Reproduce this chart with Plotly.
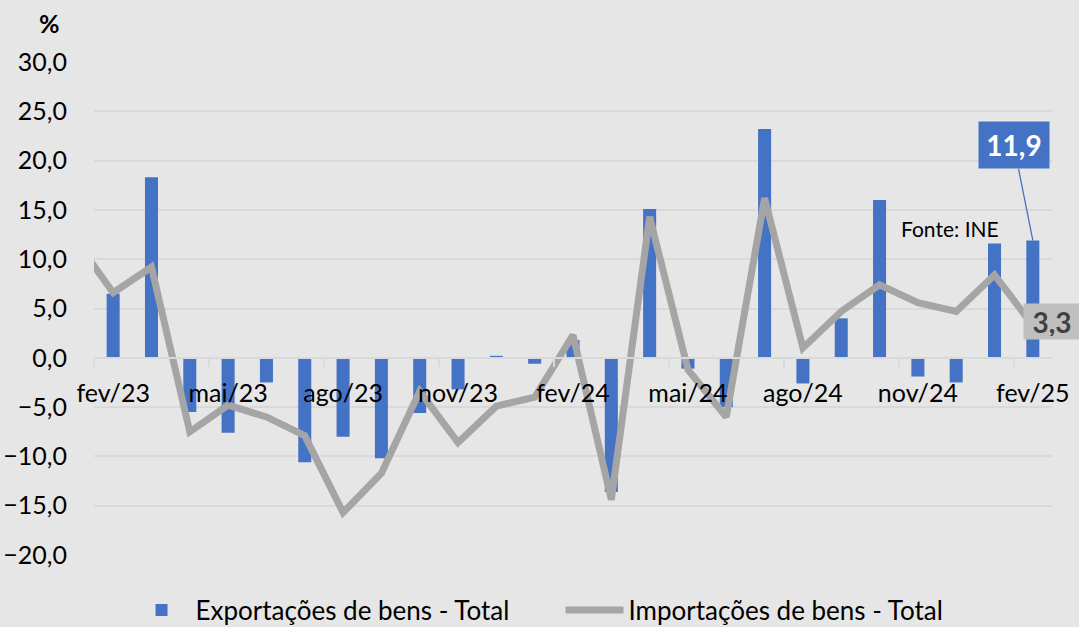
import plotly.graph_objects as go

# ---- data ----
months = ["jan/23", "fev/23", "mar/23", "abr/23", "mai/23", "jun/23", "jul/23", "ago/23",
          "set/23", "out/23", "nov/23", "dez/23", "jan/24", "fev/24", "mar/24", "abr/24",
          "mai/24", "jun/24", "jul/24", "ago/24", "set/24", "out/24", "nov/24", "dez/24",
          "jan/25", "fev/25"]
exports = [None, 6.5, 18.3, -5.5, -7.6, -2.5, -10.6, -8.0, -10.2, -5.6, -3.2, 0.2, -0.6,
           1.8, -13.6, 15.1, -1.1, -5.0, 23.2, -2.6, 4.0, 16.0, -1.9, -2.5, 11.6, 11.9]
imports = [12.0, 6.6, 9.2, -7.5, -4.8, -6.0, -7.9, -15.7, -11.7, -3.4, -8.6, -4.9, -4.0,
           2.3, -14.4, 14.3, -1.2, -6.0, 16.2, 1.0, 4.7, 7.4, 5.6, 4.7, 8.4, 3.3]
label_months = ["fev", "mai", "ago", "nov"]
exp_name = "Exportações de bens - Total"
imp_name = "Importações de bens - Total"
source_text = "Fonte: INE"
unit_text = "%"

FONT = "Lato"
BG = "#E7E6E6"
GRID = "#D9D9D9"
BLUE = "#4472C4"
GRAY = "#A5A5A5"

xpos = list(range(len(months)))
tickvals = [i for i, m in enumerate(months) if m.split("/")[0] in label_months]
ticktext = [months[i] for i in tickvals]
last = len(months) - 1

fig = go.Figure()
fig.add_trace(go.Bar(x=xpos, y=exports, name=exp_name, width=0.34,
                     marker=dict(color=BLUE, line=dict(width=0))))
fig.add_trace(go.Scatter(x=xpos, y=imports, name=imp_name, mode="lines",
                         line=dict(color=GRAY, width=7)))

fig.update_layout(
    width=1079, height=627,
    margin=dict(l=94, r=27, t=62, b=72, autoexpand=False),
    paper_bgcolor=BG, plot_bgcolor=BG,
    separators=",.",
    font=dict(family=FONT, color="#000000", size=25),
    bargap=0.66,
    showlegend=True,
    legend=dict(orientation="h", x=0.035, xanchor="left", y=-0.112, yanchor="middle",
                font=dict(size=26, family=FONT, color="#000000"),
                bgcolor="rgba(0,0,0,0)", itemwidth=58, entrywidth=360,
                tracegroupgap=0),
    xaxis=dict(range=[0.5, len(months) - 0.5], showgrid=False, zeroline=False,
               showline=True, linecolor=GRID, linewidth=2,
               anchor="free", position=0.4,
               tickmode="array", tickvals=tickvals, ticktext=ticktext,
               ticks="", ticklabelstandoff=13,
               tickfont=dict(size=25, family=FONT, color="#000000"),
               minor=dict(tickvals=[v - 0.5 for v in tickvals], ticks="outside",
                          ticklen=8, tickcolor=GRID, tickwidth=2, showgrid=False)),
    yaxis=dict(range=[-20, 30], dtick=5, tick0=0, tickformat=".1f",
               showgrid=True, gridcolor=GRID, gridwidth=1.5,
               zeroline=True, zerolinecolor=GRID, zerolinewidth=2,
               showline=False, ticks="", ticklabelstandoff=26,
               tickfont=dict(size=25, family=FONT, color="#000000")),
)

fig.add_annotation(text="<b>" + unit_text + "</b>", xref="paper", yref="paper",
                   x=-0.046, y=1.079, xanchor="center", yanchor="middle", showarrow=False,
                   font=dict(size=25, family=FONT, color="#000000"))
fig.add_annotation(text=source_text, xref="paper", yref="paper",
                   x=0.894, y=0.663, xanchor="center", yanchor="middle", showarrow=False,
                   font=dict(size=21, family=FONT, color="#000000"))
fig.add_annotation(text="<b>" + str(exports[last]).replace(".", ",") + "</b>",
                   x=xpos[last], y=exports[last], xref="x", yref="y",
                   showarrow=True, arrowhead=0, arrowwidth=1.3, arrowcolor=BLUE,
                   ax=-19, ay=-95, standoff=0,
                   bgcolor=BLUE, width=64, height=40, borderpad=3,
                   font=dict(size=28, family=FONT, color="#FFFFFF"))
fig.add_annotation(text="<b>" + str(imports[last]).replace(".", ",") + "</b>",
                   x=xpos[last], y=imports[last], xref="x", yref="y",
                   showarrow=False, xshift=19, yshift=4,
                   bgcolor="#BFBFBF", width=50, height=29, borderpad=3,
                   font=dict(size=28, family=FONT, color="#404040"))

fig.write_html("out.html", config={"displayModeBar": False},
               post_script="document.body.style.margin='0';")
